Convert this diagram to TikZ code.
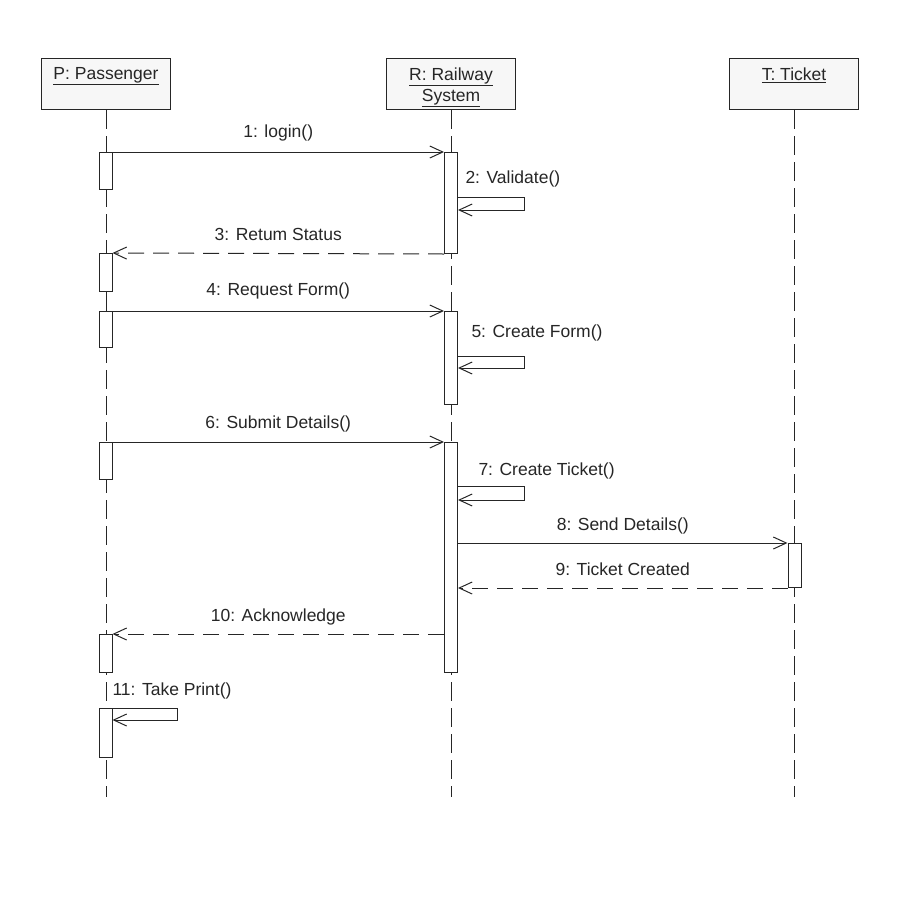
\documentclass[tikz,border=0pt]{standalone}
\usepackage{fontspec}
\setmainfont{Liberation Sans}
\usetikzlibrary{arrows.meta}

\begin{document}
\begin{tikzpicture}[x=1pt, y=-1pt, color=black!85, line width=1pt,
        >={Straight Barb[length=13pt,width=12pt]}]
        \tikzstyle{every node}=[font=\fontsize{17.5}{21}\selectfont, inner sep=0pt]
        \tikzstyle{object}=[draw, fill=black!3, minimum width=129, minimum height=51, anchor=north]
        \tikzstyle{lifeline}=[dash pattern=on 19pt off 7pt]
        \tikzstyle{activation}=[draw, fill=white, minimum width=13, anchor=north]
        \tikzstyle{call}=[->]
        \tikzstyle{reply}=[->, dash pattern=on 16pt off 9pt]
        \tikzstyle{msglabel}=[midway, anchor=base, yshift=13pt]
        \useasboundingbox (0,0) rectangle (900,900);

        \node[object, label={[anchor=north, yshift=-9pt]north:\underline{P: Passenger}}] (P) at (106,58) {};
        \node[object, label={[anchor=north, yshift=-9pt, align=center]north:\underline{R: Railway}\\\underline{System}}] (R) at (451,58) {};
        \node[object, label={[anchor=north, yshift=-9pt]north:\underline{T: Ticket}}] (T) at (794,58) {};
        \coordinate (Pend) at (106,797);
        \coordinate (Rend) at (451,797);
        \coordinate (Tend) at (794,797);
        \draw[lifeline] (P) -- (Pend);
        \draw[lifeline] (R) -- (Rend);
        \draw[lifeline] (T) -- (Tend);

        \node[activation, minimum height=37] (pa1) at (105.5,152) {};
        \node[activation, minimum height=38] (pa2) at (105.5,253) {};
        \node[activation, minimum height=36] (pa3) at (105.5,311) {};
        \node[activation, minimum height=37] (pa4) at (105.5,442) {};
        \node[activation, minimum height=38] (pa5) at (105.5,634) {};
        \node[activation, minimum height=49] (pa6) at (105.5,708) {};
        \node[activation, minimum height=101] (ra1) at (451,152) {};
        \node[activation, minimum height=93] (ra2) at (451,311) {};
        \node[activation, minimum height=230] (ra3) at (451,442) {};
        \node[activation, minimum height=44] (ta1) at (794.5,543) {};

        \draw[call] (pa1.north east) -- (ra1.north west) node[msglabel, yshift=2pt] {1: login()};
        \draw[call] (ra1.east |- 0,197) -| (524,210) -- (ra1.east |- 0,210);
        \node[anchor=base west] (l2) at (465,183) {2: Validate()};
        \draw[reply] (ra1.south west) -- (pa2.north east) node[msglabel] {3: Retum Status};
        \draw[call] (pa3.north east) -- (ra2.north west) node[msglabel, yshift=3pt] {4: Request Form()};
        \draw[call] (ra2.east |- 0,356) -| (524,368) -- (ra2.east |- 0,368);
        \node[anchor=base west] (l5) at (471,337) {5: Create Form()};
        \draw[call] (pa4.north east) -- (ra3.north west) node[msglabel, yshift=1pt] {6: Submit Details()};
        \draw[call] (ra3.east |- 0,486) -| (524,500) -- (ra3.east |- 0,500);
        \node[anchor=base west] (l7) at (478,475) {7: Create Ticket()};
        \draw[call] (ra3.east |- ta1.north) -- (ta1.north west) node[msglabel] {8: Send Details()};
        \draw[reply] (ta1.south west) -- (ra3.east |- ta1.south) node[msglabel] {9: Ticket Created};
        \draw[reply] (ra3.west |- pa5.north) -- (pa5.north east) node[msglabel] {10: Acknowledge};
        \draw[call] (pa6.north east) -| (177,720) -- (pa6.east |- 0,720);
        \node[anchor=base west] (l11) at (112,695) {11: Take Print()};
\end{tikzpicture}
\end{document}
